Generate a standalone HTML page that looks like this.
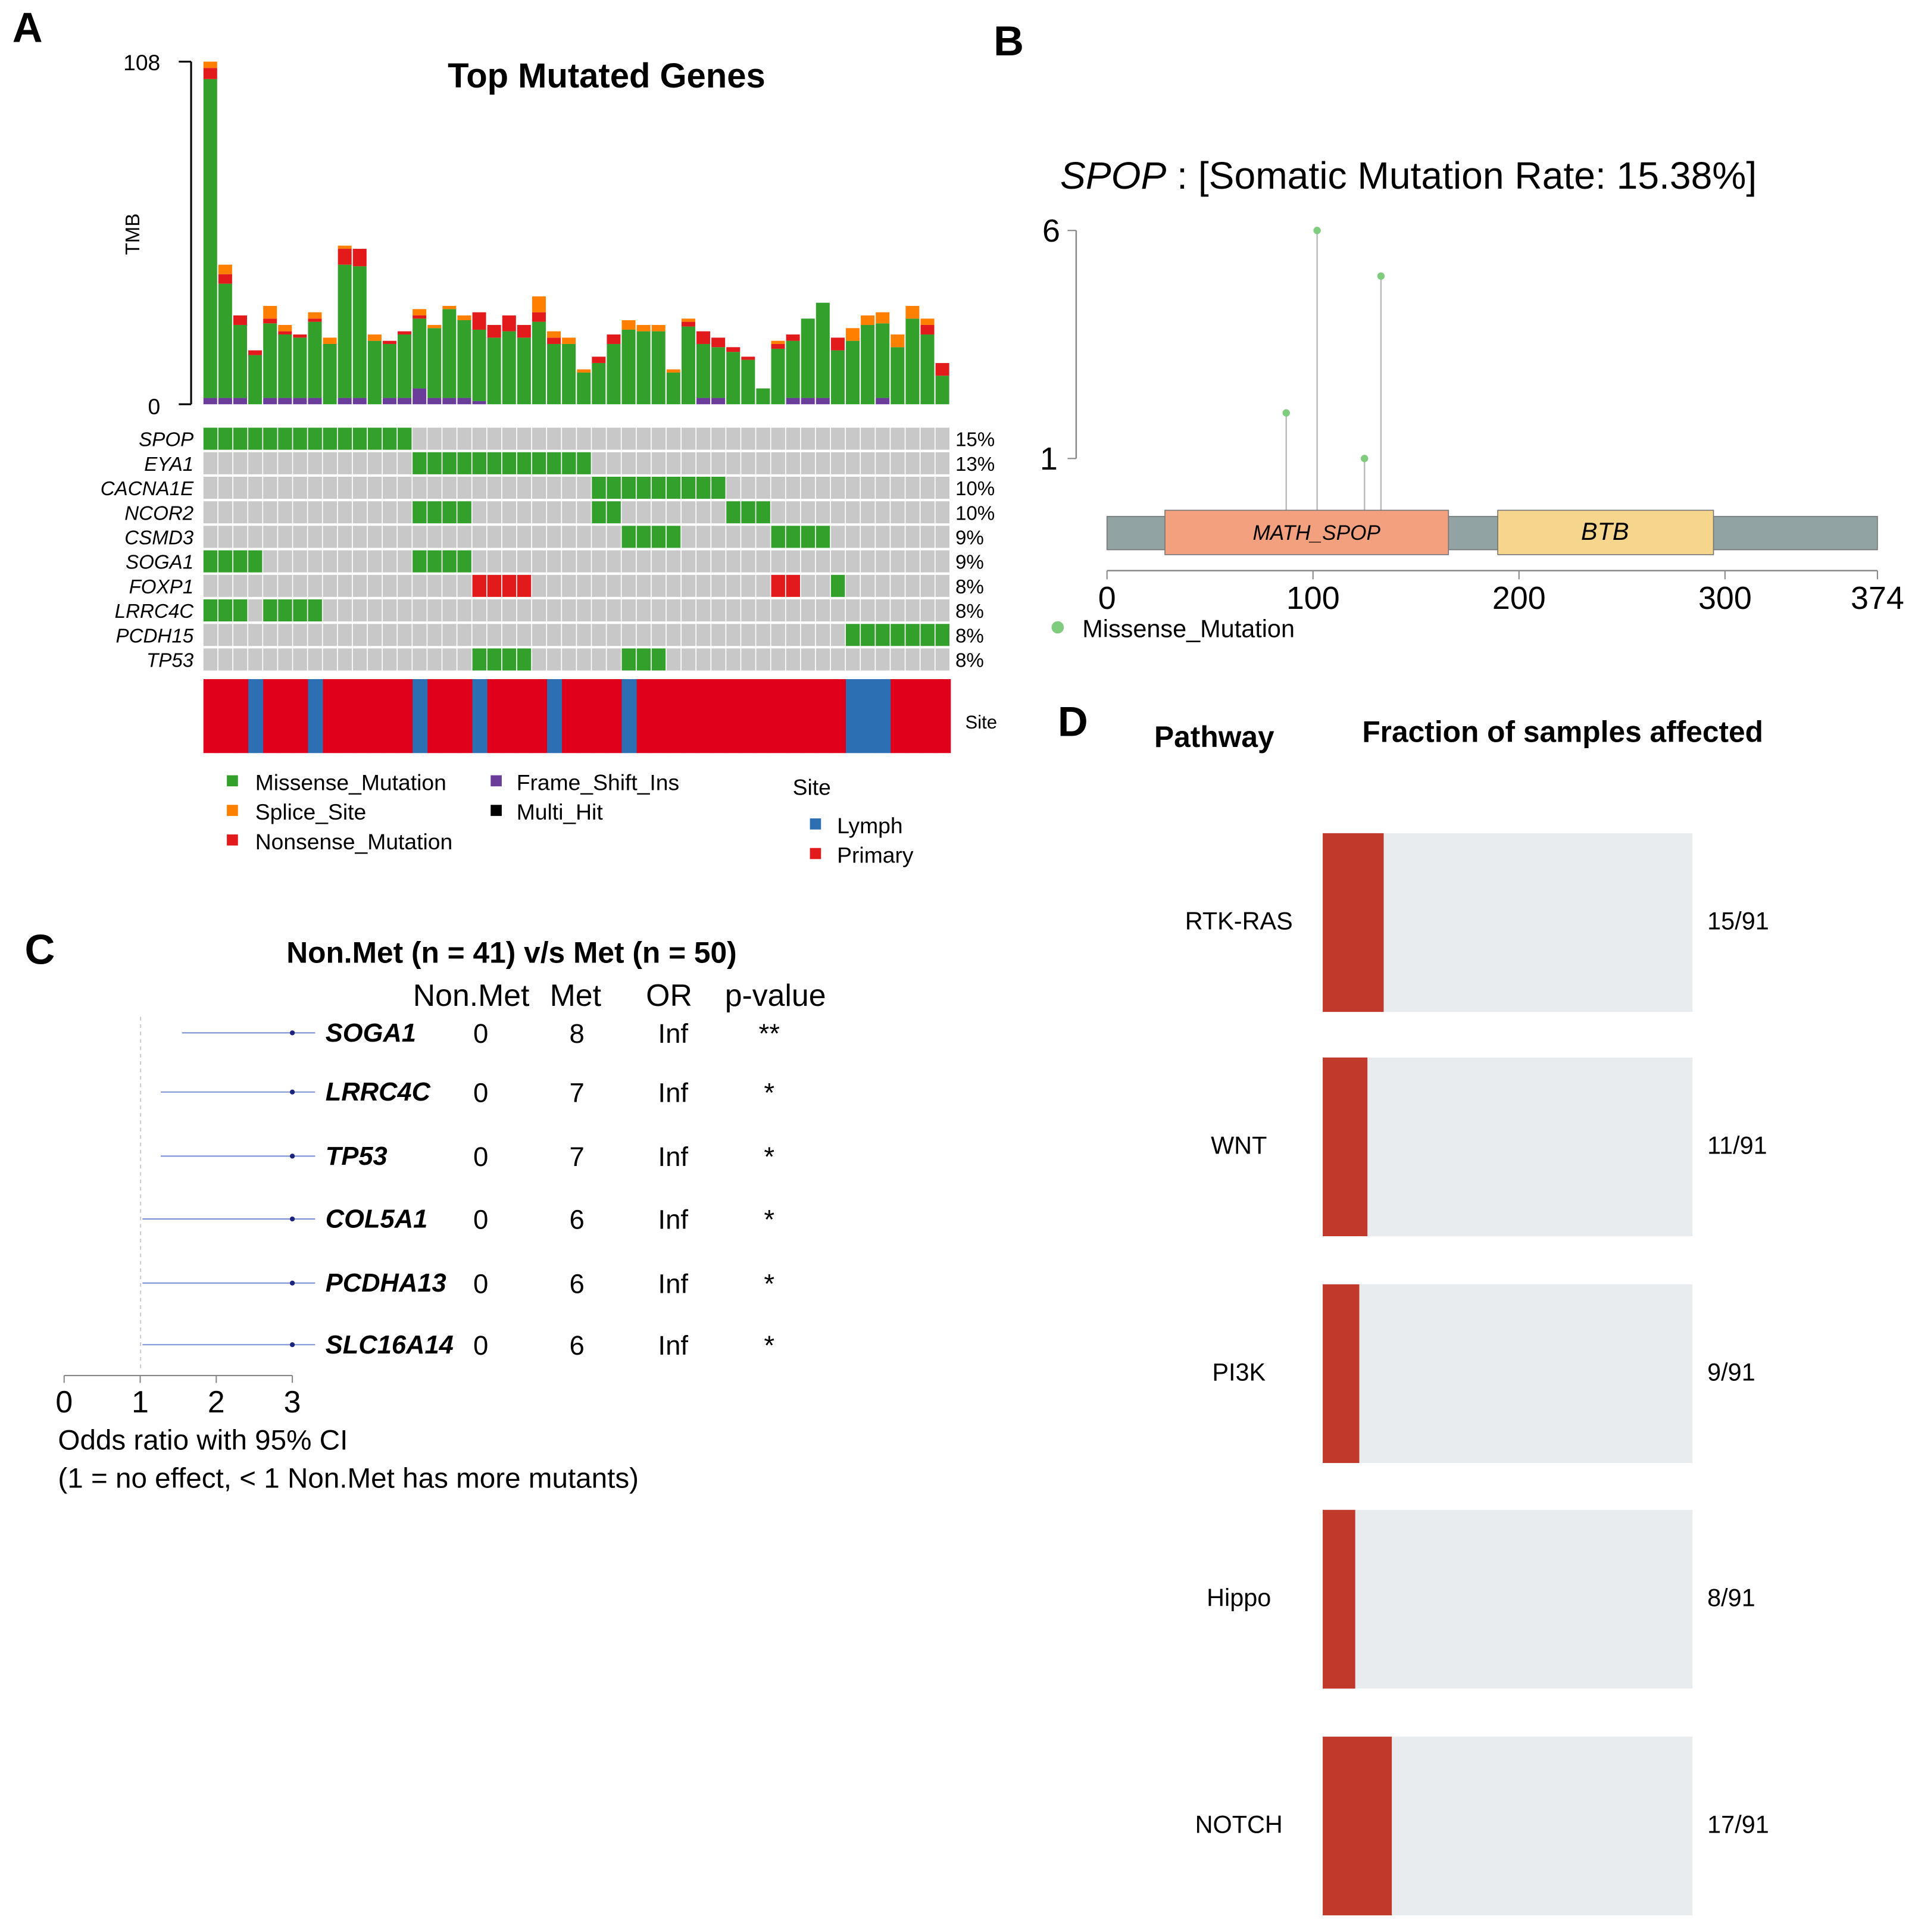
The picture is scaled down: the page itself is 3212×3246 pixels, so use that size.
<!DOCTYPE html>
<html><head><meta charset="utf-8"><style>
html,body{margin:0;padding:0;background:#fff}
svg{display:block;font-family:"Liberation Sans",Arial,sans-serif}
</style></head><body>
<svg id="fig" width="3212" height="3246" viewBox="0 0 1551 1567.5" xmlns="http://www.w3.org/2000/svg">
<rect width="1567" height="1584" fill="#fff"/>
<g id="A">
<text x="10" y="34" font-size="34" font-weight="bold">A</text>
<text x="492" y="71" font-size="28" font-weight="bold" text-anchor="middle">Top Mutated Genes</text>
<line x1="155" y1="50" x2="155" y2="328" stroke="#000" stroke-width="1.5"/>
<line x1="145" y1="50" x2="155" y2="50" stroke="#000" stroke-width="1.5"/>
<line x1="145" y1="328" x2="155" y2="328" stroke="#000" stroke-width="1.5"/>
<text x="130" y="57" font-size="18" text-anchor="end">108</text>
<text x="130" y="336" font-size="18" text-anchor="end">0</text>
<text x="113" y="190" font-size="16" text-anchor="middle" transform="rotate(-90 113 190)">TMB</text>
<g id="bars"></g><g id="grid"></g><g id="site"></g>
<text x="783" y="591" font-size="15">Site</text>
<g font-size="18">
<rect x="184" y="629" width="9" height="9" fill="#33a02c"/><text x="207" y="641">Missense_Mutation</text>
<rect x="184" y="653" width="9" height="9" fill="#ff7f00"/><text x="207" y="665">Splice_Site</text>
<rect x="184" y="677" width="9" height="9" fill="#e31a1c"/><text x="207" y="689">Nonsense_Mutation</text>
<rect x="398" y="629" width="9" height="9" fill="#6a3d9a"/><text x="419" y="641">Frame_Shift_Ins</text>
<rect x="398" y="653" width="9" height="9" fill="#000"/><text x="419" y="665">Multi_Hit</text>
<text x="643" y="645">Site</text>
<rect x="657" y="664" width="9" height="9" fill="#2c6fb3"/><text x="679" y="676">Lymph</text>
<rect x="657" y="688" width="9" height="9" fill="#e31a1c"/><text x="679" y="700">Primary</text>
</g>
</g>
<g id="B">
<text x="806" y="45" font-size="34" font-weight="bold">B</text>
<text x="860" y="153" font-size="31"><tspan font-style="italic">SPOP</tspan> : [Somatic Mutation Rate: 15.38%]</text>
<line x1="873" y1="187" x2="873" y2="372" stroke="#888" stroke-width="1.2"/>
<line x1="866" y1="187" x2="873" y2="187" stroke="#888"/><line x1="866" y1="372" x2="873" y2="372" stroke="#888"/>
<text x="860" y="196" font-size="26" text-anchor="end">6</text>
<text x="858" y="381" font-size="26" text-anchor="end">1</text>
<g id="lolli"></g>
<rect x="898" y="419" width="625" height="27" fill="#92a3a3" stroke="#777" stroke-width="0.8"/>
<rect x="945" y="414" width="230" height="36" fill="#f2a07e" stroke="#777" stroke-width="0.8"/>
<text x="1068" y="438" font-size="17" font-style="italic" text-anchor="middle">MATH_SPOP</text>
<rect x="1215" y="414" width="175" height="36" fill="#f6d58c" stroke="#777" stroke-width="0.8"/>
<text x="1302" y="438" font-size="20" font-style="italic" text-anchor="middle">BTB</text>
<g id="protaxis"></g>
<circle cx="858" cy="509" r="5" fill="#7fcc7f"/>
<text x="878" y="517" font-size="20">Missense_Mutation</text>
</g>
<g id="C">
<text x="20" y="782" font-size="34" font-weight="bold">C</text>
<text x="415" y="781" font-size="24" font-weight="bold" text-anchor="middle">Non.Met (n = 41) v/s Met (n = 50)</text>
<text x="335" y="816" font-size="25">Non.Met</text><text x="446" y="816" font-size="25">Met</text>
<text x="524" y="816" font-size="25">OR</text><text x="588" y="816" font-size="25">p-value</text>
<line x1="114" y1="825" x2="114" y2="1110" stroke="#ccc" stroke-dasharray="3,3"/>
<g id="forest"></g>
<text x="47" y="1176" font-size="23">Odds ratio with 95% CI</text>
<text x="47" y="1207" font-size="23">(1 = no effect, &lt; 1 Non.Met has more mutants)</text>
</g>
<g id="D">
<text x="858" y="597" font-size="34" font-weight="bold">D</text>
<text x="985" y="606" font-size="24" font-weight="bold" text-anchor="middle">Pathway</text>
<text x="1105" y="602" font-size="24" font-weight="bold">Fraction of samples affected</text>
<g id="path"></g>
</g>
</svg>
<script>
const NS="http://www.w3.org/2000/svg";
function mk(t,a,p){const e=document.createElementNS(NS,t);for(const k in a)e.setAttribute(k,a[k]);p.appendChild(e);return e;}
// ---- Panel A data ----
const tmbTotal=[108,44,28,17,31,25,22,29,21,50,49,22,20,23,30,25,31,28,29,25,28,25,34,23,21,11,15,22,26.5,25,25,11,27,23,21,18,15,5,20,22,27,32,21,24,28,29,22,31,27,13];
const tmbSplice=[2,3,0,0,4,2,0,2,2,1,0,2,0,0,2,1,1,1.5,0,0,0,0,5,2,2,1,0,0,3,2,2,1,1,0,0,0,0,0,1,0,0,0,0,4,3,3.5,4,4,2,0];
const tmbNonsense=[3.5,3,3,1.5,1.5,1,1,1,0,5,5.5,0,1,1,1,0,0,0,5.5,4,5,4,3,2,0,0,2,3,0,0,0,0,1.5,4,3,1.5,1,0,1.5,2,0,0,4,0,0,0,0,0,3,4];
const tmbFrameShift=[2,2,2,0,2,2,2,2,0,2,2,0,2,2,5,2,2,2,1,0,0,0,0,0,0,0,0,0,0,0,0,0,0,2,2,0,0,0,0,2,2,2,0,0,0,2,0,0,0,0];
const tmbMax=108;
const genes=["SPOP","EYA1","CACNA1E","NCOR2","CSMD3","SOGA1","FOXP1","LRRC4C","PCDH15","TP53"];
const genePct=["15%","13%","10%","10%","9%","9%","8%","8%","8%","8%"];
const geneMissense=[[0,1,2,3,4,5,6,7,8,9,10,11,12,13],[14,15,16,17,18,19,20,21,22,23,24,25],[26,27,28,29,30,31,32,33,34],[14,15,16,17,26,27,35,36,37],[28,29,30,31,38,39,40,41],[0,1,2,3,14,15,16,17],[42],[0,1,2,4,5,6,7],[43,44,45,46,47,48,49],[18,19,20,21,28,29,30]];
const geneNonsense=[[],[],[],[],[],[],[18,19,20,21,38,39],[],[],[]];
const lymphSamples=[3,7,14,18,23,28,43,44,45];
const nS=50, gx0=165, gx1=771, cw=(gx1-gx0)/nS;
const ty=v=>328-v/tmbMax*278;
const bars=document.getElementById('bars');
for(let i=0;i<nS;i++){
  const x=gx0+i*cw;
  const fs=tmbFrameShift[i], sp=tmbSplice[i], ns=tmbNonsense[i];
  const mis=tmbTotal[i]-fs-sp-ns;
  let base=0;
  [[fs,'#6a3d9a','frameshift'],[mis,'#33a02c','missense'],[ns,'#e31a1c','nonsense'],[sp,'#ff7f00','splice']].forEach(s=>{
    if(s[0]<=0)return;
    const r=mk('rect',{x:x,y:ty(base+s[0]),width:cw-1,height:ty(base)-ty(base+s[0]),fill:s[1]},bars);
    
    
    base+=s[0];
  });
}
const grid=document.getElementById('grid');
const rh=19.9, ry0=347;
genes.forEach((g,gi)=>{
  const y=ry0+gi*rh;
  for(let i=0;i<nS;i++){
    let f='#c8c8c8';
    if(geneMissense[gi].includes(i))f='#33a02c';
    if(geneNonsense[gi].includes(i))f='#e31a1c';
    const r=mk('rect',{x:gx0+i*cw,y:y,width:cw-0.8,height:rh-2,fill:f},grid);
    
    
  }
  const t=mk('text',{x:157,y:y+15,'font-size':16,'font-style':'italic','text-anchor':'end'},grid);t.textContent=g;
  
  
  const p=mk('text',{x:775,y:y+15,'font-size':16},grid);p.textContent=genePct[gi];
  
  
});
const site=document.getElementById('site');
for(let i=0;i<nS;i++){
  const r=mk('rect',{x:gx0+i*cw,y:551,width:cw+0.3,height:60,fill:lymphSamples.includes(i)?'#2c6fb3':'#e0001b'},site);
  
  
}
// ---- Panel B ----
const lolliPos=[87,102,125,133];
const lolliCount=[2,6,1,5];
const protTicks=[0,100,200,300,374];
const px=a=>898+a/374*625, pyv=c=>372-(c-1)*37;
const lo=document.getElementById('lolli');
lolliPos.forEach((p,i)=>{
  mk('line',{x1:px(p),y1:414,x2:px(p),y2:pyv(lolliCount[i]),stroke:'#bbb','stroke-width':1.2},lo);
  const c=mk('circle',{cx:px(p),cy:pyv(lolliCount[i]),r:3,fill:'#7fcc7f'},lo);
  
  
});
const pa=document.getElementById('protaxis');
mk('line',{x1:898,y1:463,x2:1523,y2:463,stroke:'#888','stroke-width':1.2},pa);
protTicks.forEach(t=>{
  mk('line',{x1:px(t),y1:463,x2:px(t),y2:470,stroke:'#888'},pa);
  const e=mk('text',{x:px(t),y:494,'font-size':26,'text-anchor':'middle'},pa);e.textContent=t;
  
  
});
// ---- Panel C ----
const fGenes=["SOGA1","LRRC4C","TP53","COL5A1","PCDHA13","SLC16A14"];
const fNonMet=[0,0,0,0,0,0];
const fMet=[8,7,7,6,6,6];
const fOR=["Inf","Inf","Inf","Inf","Inf","Inf"];
const fP=["**","*","*","*","*","*"];
const fLow=[1.55,1.27,1.27,1.03,1.03,1.03];
const fPoint=[3.0,3.0,3.0,3.0,3.0,3.0];
const fHigh=[3.3,3.3,3.3,3.3,3.3,3.3];
const orTicks=[0,1,2,3];
const ox=v=>52+v*61.7;
const fy=[838,886,938,989,1041,1091];
const fo=document.getElementById('forest');
fGenes.forEach((g,i)=>{
  const y=fy[i];
  const l=mk('line',{x1:ox(fLow[i]),y1:y,x2:ox(fHigh[i]),y2:y,stroke:'#7b8fd6','stroke-width':1},fo);
  
  
  const c=mk('circle',{cx:ox(fPoint[i]),cy:y,r:2,fill:'#1a237e'},fo);
  
  
  const t=mk('text',{x:264,y:y+7,'font-size':21,'font-weight':'bold','font-style':'italic'},fo);t.textContent=g;
  [[390,fNonMet[i]],[468,fMet[i]],[546,fOR[i]],[624,fP[i]]].forEach(a=>{
    const e=mk('text',{x:a[0],y:y+8,'font-size':22,'text-anchor':'middle'},fo);e.textContent=a[1];
  });
});
mk('line',{x1:52,y1:1116,x2:237,y2:1116,stroke:'#888'},fo);
orTicks.forEach(t=>{
  mk('line',{x1:ox(t),y1:1116,x2:ox(t),y2:1122,stroke:'#888'},fo);
  const e=mk('text',{x:ox(t),y:1146,'font-size':25,'text-anchor':'middle'},fo);e.textContent=t;
});
// ---- Panel D ----
const pathways=["RTK-RAS","WNT","PI3K","Hippo","NOTCH"];
const pathAffected=[15,11,9,8,17];
const pathTotal=[91,91,91,91,91];
const pTop=[676,858,1042,1225,1409];
const pg=document.getElementById('path');
pathways.forEach((p,i)=>{
  const y=pTop[i];
  const bg=mk('rect',{x:1073,y:y,width:300,height:145,fill:'#e9ecee'},pg);
  
  
  const r=mk('rect',{x:1073,y:y,width:pathAffected[i]/pathTotal[i]*300,height:145,fill:'#c0392b'},pg);
  
  
  const t=mk('text',{x:1005,y:y+78,'font-size':20,'text-anchor':'middle'},pg);t.textContent=p;
  const f=mk('text',{x:1385,y:y+78,'font-size':20},pg);f.textContent=pathAffected[i]+'/'+pathTotal[i];
});
</script>
</body></html>
